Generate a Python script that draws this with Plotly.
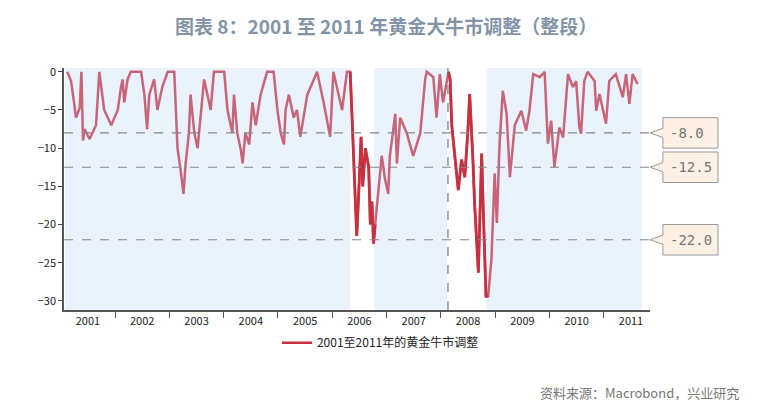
import plotly.graph_objects as go

# decimal-year positions and drawdown values (%)
years = [2001.12,2001.19,2001.25,2001.28,2001.35,2001.38,2001.41,2001.44,2001.53,2001.65,2001.71,2001.80,2001.93,
 2002.05,2002.11,2002.14,2002.17,2002.23,2002.29,2002.48,2002.54,2002.59,2002.63,2002.72,2002.78,2002.87,2002.97,
 2003.09,2003.12,2003.15,2003.21,2003.26,2003.30,2003.36,2003.39,2003.46,2003.52,2003.58,2003.64,2003.76,2003.82,
 2004.01,2004.07,2004.16,2004.19,2004.25,2004.31,2004.35,2004.40,2004.47,2004.53,2004.59,2004.68,2004.80,2004.92,
 2004.99,2005.05,2005.11,2005.14,2005.20,2005.29,2005.35,2005.41,2005.47,2005.54,2005.66,2005.72,2005.84,2005.96,
 2006.02,2006.18,2006.27,2006.33,2006.36,2006.40,2006.45,2006.48,2006.53,2006.56,2006.61,2006.67,2006.70,2006.73,
 2006.76,2006.79,2006.85,2006.88,2006.91,2006.97,2007.03,2007.06,2007.13,2007.16,2007.19,
 2007.25,2007.37,2007.49,2007.62,2007.71,2007.74,2007.86,2007.92,2007.98,2008.04,2008.14,2008.17,2008.20,2008.26,
 2008.32,2008.38,2008.44,2008.50,2008.53,2008.59,2008.62,2008.69,2008.75,2008.78,2008.83,2008.87,2008.93,2008.99,
 2009.03,2009.08,2009.14,2009.21,2009.27,2009.36,2009.48,2009.57,2009.63,2009.70,2009.82,2009.91,2009.97,2010.03,
 2010.09,2010.18,2010.25,2010.34,2010.43,2010.49,2010.55,2010.58,2010.64,2010.70,2010.83,2010.86,2010.92,2011.04,
 2011.10,2011.22,2011.35,2011.41,2011.47,2011.53,2011.62]
drawdown = [0,-1.2,-4.3,-6,-4.7,0,-9,-7.5,-8.8,-7,0,-5,-7,
 -5,-2,-1,-4,-1,0,0,-3,-7.5,-3,-1,-5,-2,0,
 0,-5,-10,-13,-16,-12,-8,-3,-8,-10,-5,-1,-5,0,
 0,-5,-8,-3,-8,-10,-12,-8,-9.5,-4,-7,-3,0,0,
 -5,-8,-9.5,-5,-3,-6,-5,-8.5,-6,-3,-1,0,-4,-8.5,
 0,-5,0,0,-5,-12,-21.5,-17,-8.5,-15,-10,-12.5,-20,-17,
 -22.5,-20,-15,-13,-11,-14,-16,-11,-7,-5.5,-12,
 -6,-8,-11,-8,-1,0,-0.7,-6,-0.3,-4,0,-1,-7,-11.5,
 -15.5,-11.5,-13.8,-7.3,-2.9,-11.6,-17.2,-26.3,-10.7,-18.1,-29.4,-29.4,-24.6,-13.3,
 -19.8,-9.4,-2.5,-5.5,-13.8,-7,-5.1,-7.7,-5.1,-0.3,-0.7,0,-9.4,-6.4,
 -12.5,-7.3,-8.6,-0.3,-2,-1.2,-7.3,-8.1,-1.2,0,-1.2,-5.1,-2.9,-6.8,
 -1.2,-0.3,-3.3,-0.3,-4.2,-0.3,-1.6]
bull_periods = [(2001.08, 2006.33), (2006.77, 2008.11), (2008.84, 2011.70)]
crash_periods = [(2006.30, 2006.80), (2008.12, 2008.88)]
ref_levels = [-8.0, -12.5, -22.0]
year_labels = list(range(2001, 2012))
vline_year = 2008.13

PINK = "#C86579"
RED = "#C8303F"
fig = go.Figure()
fig.add_trace(go.Scatter(x=years, y=drawdown, mode="lines", line=dict(color=PINK, width=2.5),
                         showlegend=False, hoverinfo="skip"))
for a, b in crash_periods:
    xs = [x for x in years if a <= x <= b]
    ys = [y for x, y in zip(years, drawdown) if a <= x <= b]
    fig.add_trace(go.Scatter(x=xs, y=ys, mode="lines", line=dict(color=RED, width=2.8), showlegend=False))
fig.add_trace(go.Scatter(x=[None], y=[None], mode="lines", line=dict(color=RED, width=2.5),
                         name="2001至2011年的黄金牛市调整"))

shapes = []
for a, b in bull_periods:
    shapes.append(dict(type="rect", xref="x", yref="paper", x0=a, x1=b, y0=0, y1=1,
                       fillcolor="#EAF2FB", line=dict(width=0), layer="below"))
for lv in ref_levels:
    shapes.append(dict(type="line", xref="paper", yref="y", x0=0, x1=1.0, y0=lv, y1=lv,
                       line=dict(color="#888", width=1.2, dash="dash")))
    h = 2.0
    shapes.append(dict(type="path", xref="paper", yref="y",
                       path=f"M 1.0 {lv} L 1.022 {lv+0.6} L 1.022 {lv+h} L 1.116 {lv+h} L 1.116 {lv-h} L 1.022 {lv-h} L 1.022 {lv-0.6} Z",
                       fillcolor="#FDF1E6", line=dict(color="#999", width=1)))
shapes.append(dict(type="line", xref="x", yref="paper", x0=vline_year, x1=vline_year, y0=0, y1=1,
                   line=dict(color="#777", width=1.2, dash="dash")))
fig.update_layout(shapes=shapes)

for lv in ref_levels:
    fig.add_annotation(xref="paper", yref="y", x=1.03, xanchor="left", y=lv, text=f"{lv:.1f}", showarrow=False,
                       font=dict(family="DejaVu Sans Mono", size=14, color="#777"))

fig.add_annotation(xref="paper", yref="paper", x=0.55, y=1.24, text="图表 8：2001 至 2011 年黄金大牛市调整（整段）",
                   showarrow=False, font=dict(family="Noto Sans CJK SC", size=19, color="#8494A8", weight="bold"))
fig.add_annotation(xref="paper", yref="paper", x=1.155, y=-0.39, xanchor="right", text="资料来源：Macrobond，兴业研究",
                   showarrow=False, font=dict(family="Noto Sans CJK SC", size=13, color="#777"))

fig.update_layout(
    width=772, height=417, margin=dict(l=56, r=130, t=60, b=115, autoexpand=False),
    paper_bgcolor="white", plot_bgcolor="white",
    font=dict(family="Noto Sans CJK SC", size=11, color="#222"),
    legend=dict(orientation="h", x=0.54, xanchor="center", y=-0.075, yanchor="top",
                font=dict(size=12), itemwidth=30),
    xaxis=dict(range=[2001.06, 2011.85], tickvals=[y + 0.5 for y in year_labels],
               ticktext=[str(y) for y in year_labels], ticks="", showgrid=False, zeroline=False,
               showline=True, linecolor="#555", linewidth=1.5,
               minor=dict(tickvals=list(range(2002, 2012)), ticks="outside", ticklen=6, tickcolor="#555")),
    yaxis=dict(range=[-31.2, 0.5], tickvals=[0, -5, -10, -15, -20, -25, -30], ticks="outside", ticklen=4,
               showgrid=False, zeroline=False, showline=True, linecolor="#555", linewidth=1.5),
)
fig.write_html("out.html")
